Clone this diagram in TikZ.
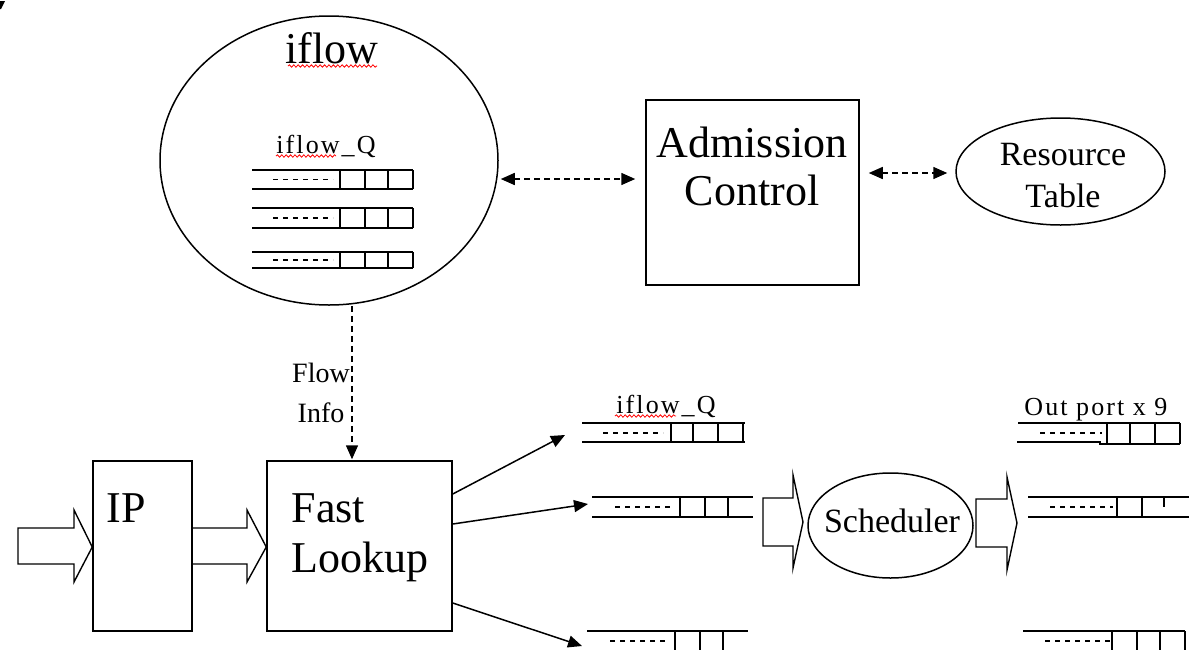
\documentclass[tikz,border=0pt]{standalone}
\usepackage{fontspec}
\setmainfont{Liberation Serif}
\newfontfamily\labelserif[LetterSpace=8]{Liberation Serif}
\usetikzlibrary{arrows.meta,shapes.geometric,calc,decorations.pathmorphing}

\begin{document}
\begin{tikzpicture}[x=0.5pt,y=-0.5pt, line width=0.75pt,
  big/.style={font=\fontsize{22}{26}\selectfont, inner sep=0, anchor=base},
  mid/.style={font=\fontsize{17}{20}\selectfont, inner sep=0, anchor=base},
  small/.style={font=\fontsize{14}{17}\selectfont, inner sep=0, anchor=base},
  qlabel/.style={font=\labelserif\fontsize{13}{15}\selectfont, inner sep=0, anchor=base},
  box/.style={draw, rectangle, inner sep=0},
  oval/.style={draw, ellipse, inner sep=0},
  arrowtip/.style={-{Triangle[length=7pt,width=6pt]}},
  dbl/.style={dash pattern=on 3pt off 2pt, {Triangle[length=7pt,width=6pt]}-{Triangle[length=7pt,width=6pt]}},
  qdash/.style={dash pattern=on 2.5pt off 2.5pt},
  spell/.style={red, line width=0.4pt, decorate, decoration={snake, amplitude=0.6pt, segment length=2.2pt}},
  blockarrow/.style={line width=0.7pt, line join=miter}]

\useasboundingbox (0,0) rectangle (1189,649);
\clip (0,0) rectangle (1189,649);

% stray mark in the corner
\fill (0,1) -- (5,1) -- (1,9) -- (0,9) -- cycle;

% ---- main shapes ----
\node[oval, minimum width=169pt, minimum height=144.5pt] (iflow) at (329,160.5) {};
\node[box, minimum width=106.5pt, minimum height=92.5pt] (adm) at (752.5,192.5) {};
\node[oval, minimum width=104.5pt, minimum height=53.5pt] (res) at (1060.5,171.5) {};
\node[box, minimum width=49.5pt, minimum height=85pt] (ip) at (142.5,546) {};
\node[box, minimum width=92.5pt, minimum height=85pt] (fl) at (359.5,546) {};
\node[oval, minimum width=82.5pt, minimum height=52.5pt] (sch) at (890.5,525.5) {};

% ---- texts ----
\node[big] (tiflow) at (332,63) {iflow};
\draw[spell] (288,66) -- (377,66);
\node[qlabel] (tq1) at (326,153) {iflow\_Q};
\draw[spell] (276,156) -- (336,156);
\node[big] (tadm1) at (752,157) {Admission};
\node[big] (tadm2) at (752,205) {Control};
\node[mid] (tres1) at (1063,165) {Resource};
\node[mid] (tres2) at (1063,207) {Table};
\node[small] (tflow) at (321,382) {Flow};
\node[small] (tinfo) at (321,422) {Info};
\node[big, anchor=base west] (tipname) at (106,522) {IP};
\node[big, anchor=base west] (tfast) at (291,522) {Fast};
\node[big, anchor=base west] (tlook) at (291,572) {Lookup};
\node[mid] (tsch) at (892,532) {Scheduler};
\node[qlabel] (tq2) at (666,413) {iflow\_Q};
\draw[spell] (615,416) -- (676,416);
\node[qlabel] (tout) at (1096,415) {Out port x 9};

% ---- queues inside iflow ----
\foreach \t/\b in {170/189, 208/228, 252/268}{
  \draw (252,\t) -- (413,\t) (252,\b) -- (413,\b);
  \foreach \x in {340,365,388,413} \draw (\x,\t) -- (\x,\b);
  \draw[qdash] (273,{(\t+\b)/2}) -- (333,{(\t+\b)/2});
}

% ---- per-flow queues ----
\draw (582,423) -- (745,423) (582,442) -- (745,442);
\foreach \x in {671,693,718,743} \draw (\x,423) -- (\x,442);
\draw[qdash] (603,433) -- (663,433);

\draw (592,497) -- (753,497) (592,517) -- (753,517);
\foreach \x in {680,705,728} \draw (\x,497) -- (\x,517);
\draw[qdash] (615,507) -- (673,507);

\draw (587,631) -- (748,631) (587,651) -- (748,651);
\foreach \x in {675,700,723} \draw (\x,631) -- (\x,651);
\draw[qdash] (610,641) -- (668,641);

% ---- output port queues ----
\draw (1018,423) -- (1180,423) (1017,442) -- (1100,442) -- (1100,444) -- (1180,444);
\foreach \x in {1107,1130,1155,1180} \draw (\x,423) -- (\x,444);
\draw[qdash] (1040,433) -- (1102,433);

\draw (1028,497) -- (1189,497) (1028,517) -- (1189,517);
\foreach \x in {1117,1142} \draw (\x,497) -- (\x,517);
\draw (1164,497) -- (1164,507);
\draw[qdash] (1050,507) -- (1113,507);

\draw (1023,631) -- (1185,631) (1023,651) -- (1185,651);
\foreach \x in {1112,1137,1160,1185} \draw (\x,631) -- (\x,651);
\draw[qdash] (1045,641) -- (1110,641);

% ---- block arrows ----
\draw[blockarrow] (18,528) -- (74,528) -- (74,510) -- (ip.west |- 0,547) -- (74,582) -- (74,564) -- (18,564) -- cycle;
\draw[blockarrow] (ip.east |- 0,528) -- (247,528) -- (247,510) -- (fl.west |- 0,547) -- (247,582) -- (247,564) -- (ip.east |- 0,564);
\draw[blockarrow] (763,498) -- (793,498) -- (793,475) -- (803,522) -- (793,568) -- (793,546) -- (763,546) -- cycle;
\draw[blockarrow] (976,499) -- (1007,499) -- (1007,477) -- (1017,523) -- (1007,570) -- (1007,547) -- (976,547) -- cycle;

% ---- connectors ----
\draw[dbl] ($(iflow.east)+(2,18.5)$) -- ($(adm.west)+(-10,-13.5)$);
\draw[dbl] ($(adm.east)+(9,-19.5)$) -- ($(res.west)+(-8,1.5)$);
\draw[arrowtip, dash pattern=on 3pt off 2pt] ($(iflow.south)+(23,0)$) -- ($(fl.north)+(-7.5,-1)$);

\coordinate (qa) at (565,435);
\coordinate (qb) at (588,504);
\coordinate (qc) at (582,646);
\draw[arrowtip] (fl.east |- 0,494) -- (qa);
\draw[arrowtip] (fl.east |- 0,524) -- (qb);
\draw[arrowtip] (fl.east |- 0,603) -- (qc);
\end{tikzpicture}
\end{document}
